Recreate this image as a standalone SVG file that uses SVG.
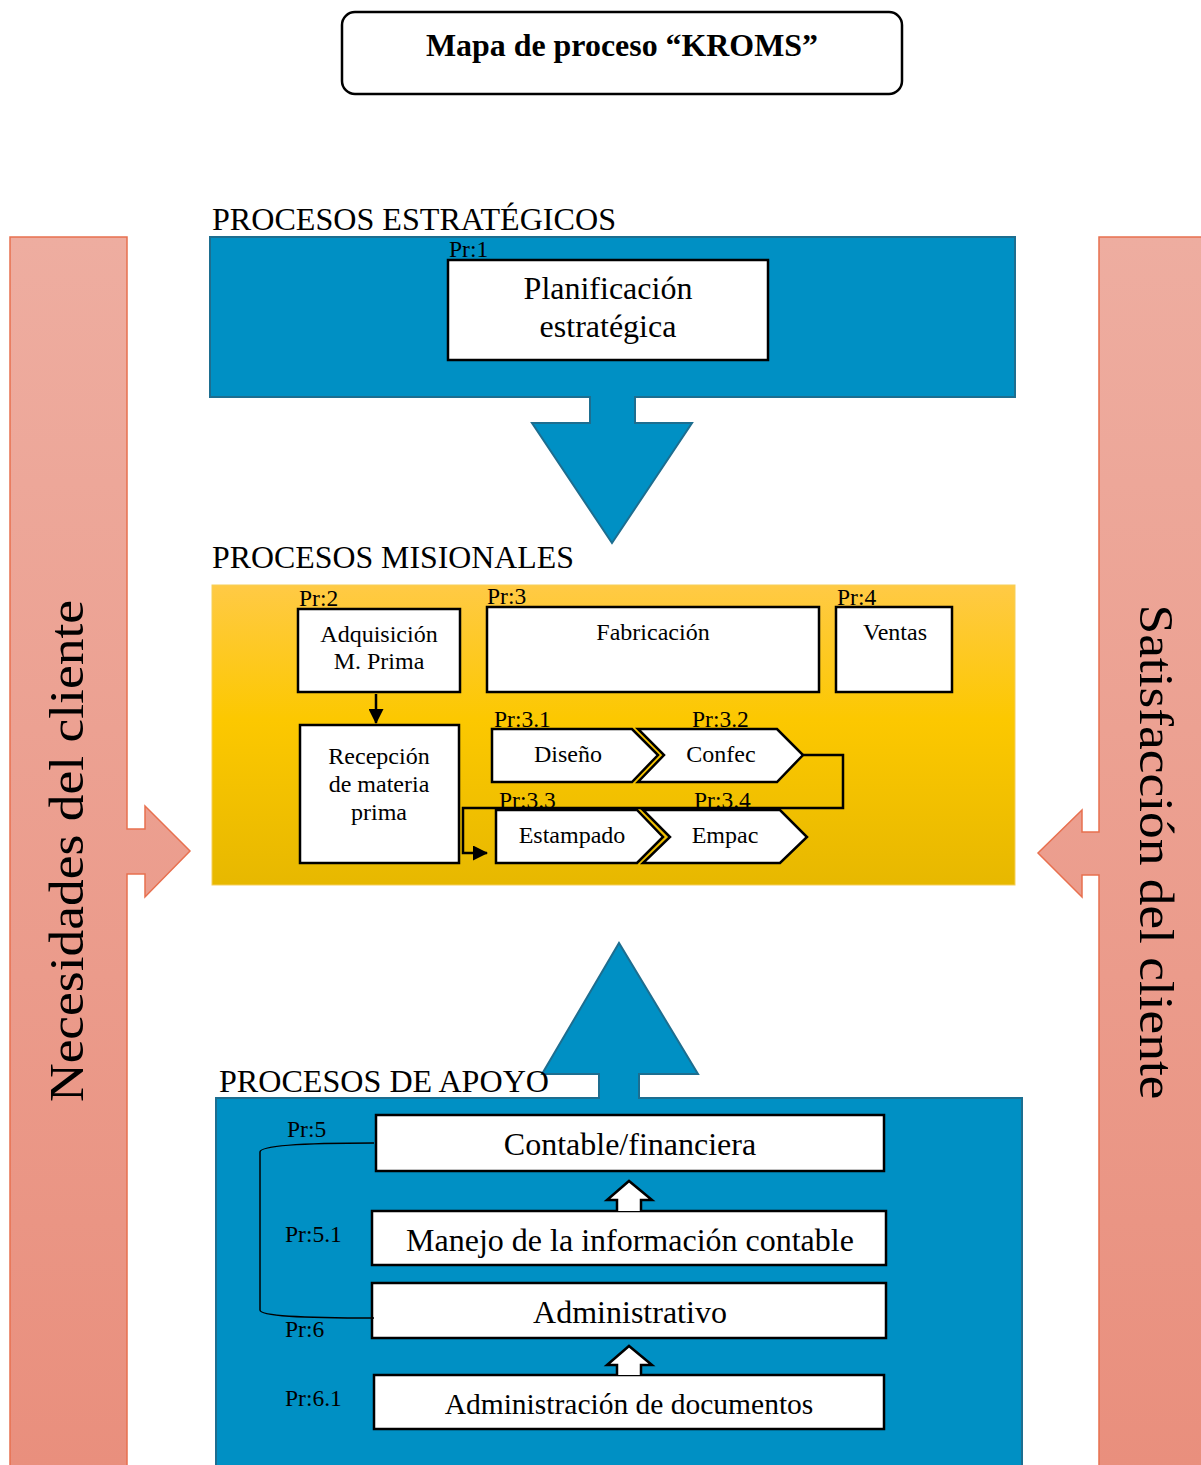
<svg xmlns="http://www.w3.org/2000/svg" width="1201" height="1465" viewBox="0 0 1201 1465">
<style>
.t{font-family:"Liberation Serif","Times New Roman",serif;fill:#000}
.box{fill:#fff;stroke:#000;stroke-width:2.5}
.blue{fill:#0090c4;stroke:#1d6e90;stroke-width:2}
.side{fill:url(#sideg);stroke:#e8704f;stroke-width:1.5}
.lbl{font-size:32px}
.pr{font-size:23.5px}
.n22{font-size:24px;text-anchor:middle}
.n28{font-size:32px;text-anchor:middle}
.conn{fill:none;stroke:#000;stroke-width:2.5}
</style>
<defs>
<linearGradient id="sideg" x1="0" y1="0" x2="0" y2="1">
<stop offset="0" stop-color="#eeada0"/>
<stop offset="1" stop-color="#e98f7d"/>
</linearGradient>
<linearGradient id="yel" x1="0" y1="0" x2="0" y2="1">
<stop offset="0" stop-color="#ffca45"/>
<stop offset="0.45" stop-color="#fcc800"/>
<stop offset="1" stop-color="#e7b800"/>
</linearGradient>
<marker id="ah" markerWidth="15" markerHeight="15" refX="14" refY="7.5" orient="auto" markerUnits="userSpaceOnUse" viewBox="0 0 15 15">
<path d="M0,0 L15,7.5 L0,15 Z" fill="#000"/>
</marker>
</defs>
<rect width="1201" height="1465" fill="#fff"/>

<g id="title">
<rect x="342" y="12" width="560" height="82" rx="13" fill="#fff" stroke="#000" stroke-width="2.5"/>
<text class="t" x="622" y="56" font-size="32" font-weight="bold" text-anchor="middle" textLength="392" lengthAdjust="spacingAndGlyphs">Mapa de proceso “KROMS”</text>
</g>

<g id="necesidades">
<path class="side" d="M10,237 H127 V829 H145 V806 L190,851 L145,897 V874 H127 V1468 H10 Z"/>
<text class="t" transform="translate(83,851) rotate(-90)" font-size="48" text-anchor="middle" textLength="502" lengthAdjust="spacingAndGlyphs">Necesidades del cliente</text>
</g>

<g id="satisfaccion">
<path class="side" d="M1203,237 H1099 V832 H1082 V810 L1038,853 L1082,897 V875 H1099 V1468 H1203 Z"/>
<text class="t" transform="translate(1140,852) rotate(90)" font-size="48" text-anchor="middle" textLength="495" lengthAdjust="spacingAndGlyphs">Satisfacción del cliente</text>
</g>

<g id="estrategicos">
<text class="t lbl" x="212" y="230" textLength="404" lengthAdjust="spacingAndGlyphs">PROCESOS ESTRATÉGICOS</text>
<rect class="blue" x="210" y="237" width="805" height="160"/>
<path class="blue" d="M590,397 V423 H532 L612,543 L692,423 H635 V397"/>
<rect x="591" y="394" width="43" height="6" fill="#0090c4"/>
</g>

<g id="pr1">
<text class="t pr" x="449" y="257">Pr:1</text>
<rect class="box" x="448" y="260" width="320" height="100" stroke-width="1.5"/>
<text class="t n28" x="608" y="299">Planificación</text>
<text class="t n28" x="608" y="337">estratégica</text>
</g>

<g id="misionales">
<text class="t lbl" x="212" y="568" textLength="362" lengthAdjust="spacingAndGlyphs">PROCESOS MISIONALES</text>
<rect x="212" y="585" width="803" height="300" fill="url(#yel)" stroke="#f6cf5a" stroke-width="1"/>
</g>

<g id="pr2">
<text class="t pr" x="299" y="606">Pr:2</text>
<rect class="box" x="298" y="609" width="162" height="83"/>
<text class="t n22" x="379" y="642">Adquisición</text>
<text class="t n22" x="379" y="669">M. Prima</text>
</g>

<g id="pr3">
<text class="t pr" x="487" y="604">Pr:3</text>
<rect class="box" x="487" y="607" width="332" height="85"/>
<text class="t n22" x="653" y="640">Fabricación</text>
</g>

<g id="pr4">
<text class="t pr" x="837" y="605">Pr:4</text>
<rect class="box" x="836" y="607" width="116" height="85"/>
<text class="t n22" x="895" y="640">Ventas</text>
</g>

<g id="recepcion">
<rect class="box" x="300" y="725" width="159" height="138"/>
<text class="t n22" x="379" y="764">Recepción</text>
<text class="t n22" x="379" y="792">de materia</text>
<text class="t n22" x="379" y="820">prima</text>
</g>

<g id="pr31">
<text class="t pr" x="494" y="727">Pr:3.1</text>
<path class="box" d="M492,729 H632 L658,755 L632,782 H492 Z"/>
<text class="t n22" x="568" y="762">Diseño</text>
</g>

<g id="pr32">
<text class="t pr" x="692" y="727">Pr:3.2</text>
<path class="box" d="M638,729 H777 L803,755 L777,782 H638 L664,755 Z"/>
<text class="t n22" x="721" y="762">Confec</text>
</g>

<g id="pr33">
<text class="t pr" x="499" y="808">Pr:3.3</text>
<path class="box" d="M496,810 H637 L663,837 L637,863 H496 Z"/>
<text class="t n22" x="572" y="843">Estampado</text>
</g>

<g id="pr34">
<text class="t pr" x="694" y="808">Pr:3.4</text>
<path class="box" d="M643,810 H780 L807,837 L780,863 H643 L670,837 Z"/>
<text class="t n22" x="725" y="843">Empac</text>
</g>

<g id="apoyo">
<rect class="blue" x="216" y="1098" width="806" height="370"/>
<path class="blue" d="M599,1098 V1074 H542 L619,943 L698,1074 H639 V1098"/>
<rect x="600" y="1095" width="38" height="6" fill="#0090c4"/>
<text class="t lbl" x="219" y="1092" textLength="330" lengthAdjust="spacingAndGlyphs">PROCESOS DE APOYO</text>
</g>

<g id="pr5">
<text class="t pr" x="287" y="1137">Pr:5</text>
<rect class="box" x="376" y="1115" width="508" height="56"/>
<text class="t n28" x="630" y="1155">Contable/financiera</text>
</g>

<g id="pr51">
<text class="t pr" x="285" y="1242">Pr:5.1</text>
<rect class="box" x="372" y="1211" width="514" height="54"/>
<text class="t n28" x="630" y="1251">Manejo de la información contable</text>
</g>

<g id="pr6">
<text class="t pr" x="285" y="1337">Pr:6</text>
<rect class="box" x="372" y="1283" width="514" height="55"/>
<text class="t n28" x="630" y="1323">Administrativo</text>
</g>

<g id="pr61">
<text class="t pr" x="285" y="1406">Pr:6.1</text>
<rect class="box" x="374" y="1375" width="510" height="54"/>
<text class="t n28" x="629" y="1414" style="font-size:29.5px">Administración de documentos</text>
</g>

<g id="connectors">
<line class="conn" x1="376" y1="694" x2="376" y2="723" marker-end="url(#ah)"/>
<path class="conn" d="M803,755 H843 V808 H463 V853 H487" marker-end="url(#ah)"/>
<path d="M374,1143 C300,1143 260,1146 260,1152 V1310 C260,1316 300,1318 374,1318" fill="none" stroke="#000" stroke-width="1.5"/>
<path d="M617,1211 V1200 H607 L629,1181 L652,1200 H641 V1211" fill="#fff" stroke="#000" stroke-width="2.5"/>
<path d="M617,1375 V1365 H607 L629,1346 L652,1365 H641 V1375" fill="#fff" stroke="#000" stroke-width="2.5"/>
</g>
</svg>
